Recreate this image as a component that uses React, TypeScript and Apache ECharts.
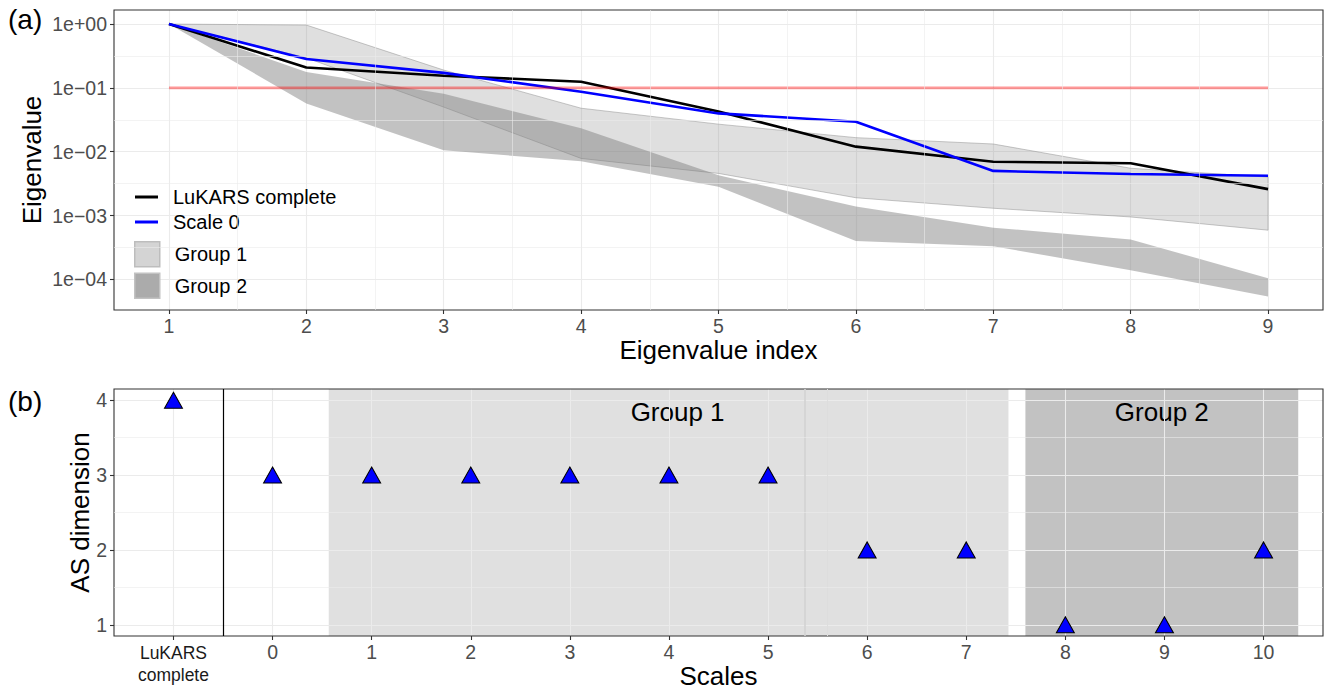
import React, { useEffect, useRef } from 'react';
import * as echarts from 'echarts';

// ---------- Panel (a) data ----------
const eigIndex = [1, 2, 3, 4, 5, 6, 7, 8, 9];
const lukarsComplete = [1, 0.209, 0.155, 0.125, 0.0427, 0.012, 0.00695, 0.0066, 0.00259];
const scale0 = [1, 0.284, 0.172, 0.087, 0.0398, 0.0295, 0.005, 0.00447, 0.0042];
const group1Upper = [1, 0.964, 0.19, 0.048, 0.027, 0.0166, 0.0132, 0.0055, 0.004];
const group1Lower = [1, 0.295, 0.05, 0.00785, 0.00457, 0.0019, 0.0013, 0.00095, 0.00059];
const group2Upper = [1, 0.178, 0.081, 0.0232, 0.00427, 0.00138, 0.000646, 0.000422, 0.000104];
const group2Lower = [1, 0.0571, 0.0105, 0.00708, 0.00282, 0.000398, 0.000331, 0.000139, 0.0000537];
const thresholdValue = 0.1;
const yTickExponents = [-4, -3, -2, -1, 0];

// ---------- Panel (b) data ----------
const scaleLabels = ['LuKARS complete', '0', '1', '2', '3', '4', '5', '6', '7', '8', '9', '10'];
const asDimension = [4, 3, 3, 3, 3, 3, 3, 2, 2, 1, 1, 2];
const asTicks = [1, 2, 3, 4];
const group1Span = [1.567, 8.426];
const group2Span = [8.597, 11.35];
const separatorAt = 0.5;
const group1Seams = [6.367, 6.6];

const FONT = '"Liberation Sans", Arial, Helvetica, sans-serif';
const lg = (v: number) => Math.log10(v);

function expLabel(v: number) {
  const n = Math.round(v);
  const sign = n >= 0 ? '+' : '\u2212';
  return '1e' + sign + String(Math.abs(n)).padStart(2, '0');
}

function ribbon(name: string, upper: number[], lower: number[], fill: string, stroke: string, lw: number, z: number) {
  return {
    type: 'custom',
    name,
    xAxisIndex: 0,
    yAxisIndex: 0,
    z,
    silent: true,
    itemStyle: { color: fill },
    data: eigIndex.map((x, i) => [x, lg(upper[i]), lg(lower[i])]),
    encode: { x: 0, y: [1, 2] },
    renderItem: (params: any, api: any) => {
      if (params.dataIndex !== 0) return { type: 'group', children: [] };
      const up = eigIndex.map((x, i) => api.coord([x, lg(upper[i])]));
      const lo = eigIndex.map((x, i) => api.coord([x, lg(lower[i])])).reverse();
      return {
        type: 'polygon',
        shape: { points: [...up, ...lo] },
        style: { fill, stroke, lineWidth: lw },
      };
    },
  };
}

export default function App() {
  const ref = useRef<HTMLDivElement>(null);

  useEffect(() => {
    if (!ref.current) return;
    const chart = echarts.init(ref.current, undefined, { renderer: 'svg' });

    const xMinorA = eigIndex.slice(1).map((v) => v - 0.5);
    const yMinorA = yTickExponents.slice(1).map((v) => v - 0.5);
    const yMinorB = asTicks.slice(1).map((v) => v - 0.5);
    const scaleIdx = scaleLabels.map((_, i) => i);

    const tickStyle = { show: true, length: 4, lineStyle: { color: '#333333', width: 1.1 } };
    const splitStyle = { show: true, lineStyle: { color: '#ebebeb', width: 1.1 } };
    const labelStyle = { color: '#4d4d4d', fontSize: 19.5, fontFamily: FONT };
    const nameStyle = { color: '#000', fontSize: 26, fontFamily: FONT };
    const noLine = { show: false, onZero: false };
    const legendText = { fontSize: 20, color: '#000', lineHeight: 22, fontFamily: FONT, padding: [0, 0, 0, 10] };

    const option: any = {
      animation: false,
      backgroundColor: '#ffffff',
      textStyle: { fontFamily: FONT },
      grid: [
        { left: 114, top: 10, width: 1209, height: 300, show: true, borderColor: '#333333', borderWidth: 1.1,
          backgroundColor: 'transparent', z: 4, containLabel: false, outerBoundsMode: 'none' },
        { left: 114, top: 389, width: 1209, height: 247, show: true, borderColor: '#333333', borderWidth: 1.1,
          backgroundColor: 'transparent', z: 4, containLabel: false, outerBoundsMode: 'none' },
      ],
      xAxis: [
        {
          type: 'value', gridIndex: 0, min: 0.6, max: 9.4,
          axisLine: noLine,
          axisTick: { ...tickStyle, customValues: eigIndex },
          axisLabel: { ...labelStyle, margin: 6, customValues: eigIndex, formatter: (v: number) => String(Math.round(v)) },
          splitLine: splitStyle,
          name: 'Eigenvalue index', nameLocation: 'middle', nameGap: 27, nameMoveOverlap: false, nameTextStyle: nameStyle,
        },
        {
          type: 'value', gridIndex: 1, min: -0.6, max: 11.6, z: 3,
          axisLine: noLine,
          axisTick: { ...tickStyle, customValues: scaleIdx },
          axisLabel: {
            ...labelStyle, margin: 6, customValues: scaleIdx,
            formatter: (v: number) => {
              const i = Math.round(v);
              if (i === 0) {
                const parts = scaleLabels[0].split(' ');
                return parts.map((p) => '{lk|' + p + '}').join('\n');
              }
              return scaleLabels[i];
            },
            rich: { lk: { fontSize: 17.5, color: '#1a1a1a', lineHeight: 22, fontFamily: FONT } },
          },
          splitLine: splitStyle,
          name: 'Scales', nameLocation: 'middle', nameGap: 27, nameMoveOverlap: false,
          nameTextStyle: { ...nameStyle, lineHeight: 26 },
        },
      ],
      yAxis: [
        {
          type: 'value', gridIndex: 0, min: -4.48, max: 0.22,
          axisLine: noLine,
          axisTick: { ...tickStyle, customValues: yTickExponents },
          axisLabel: { ...labelStyle, margin: 7, customValues: yTickExponents, formatter: expLabel },
          splitLine: splitStyle,
          name: 'Eigenvalue', nameLocation: 'middle', nameGap: 69, nameMoveOverlap: false, nameTextStyle: nameStyle,
        },
        {
          type: 'value', gridIndex: 1, min: 0.85, max: 4.15, z: 3,
          axisLine: noLine,
          axisTick: { ...tickStyle, customValues: asTicks },
          axisLabel: { ...labelStyle, margin: 7, customValues: asTicks, formatter: (v: number) => String(Math.round(v)) },
          splitLine: splitStyle,
          name: 'AS dimension', nameLocation: 'middle', nameGap: 21, nameMoveOverlap: false, nameTextStyle: nameStyle,
        },
      ],
      legend: [
        {
          data: [
            { name: 'LuKARS complete', icon: 'rect', itemStyle: { color: '#000000', borderWidth: 0 } },
            { name: 'Scale 0', icon: 'rect', itemStyle: { color: '#0000ff', borderWidth: 0 } },
          ],
          orient: 'vertical', left: 135, top: 186, padding: 0,
          itemWidth: 23, itemHeight: 3, itemGap: 3,
          selectedMode: false,
          textStyle: legendText,
        },
        {
          data: [
            { name: 'Group 1', icon: 'rect', itemStyle: { color: '#d4d4d4', borderColor: '#bdbdbd', borderWidth: 1.5 } },
            { name: 'Group 2', icon: 'rect', itemStyle: { color: '#ababab', borderColor: '#c2c2c2', borderWidth: 1.5 } },
          ],
          orient: 'vertical', left: 134, top: 241, padding: 0,
          itemWidth: 25, itemHeight: 25, itemGap: 5,
          selectedMode: false,
          textStyle: legendText,
        },
      ],
      graphic: [
        { type: 'text', left: 8, top: 5, style: { text: '(a)', fontSize: 28, fill: '#000', fontFamily: FONT } },
        { type: 'text', left: 8, top: 387, style: { text: '(b)', fontSize: 28, fill: '#000', fontFamily: FONT } },
      ],
      series: [
        // minor grid, panel (a)
        {
          type: 'line', name: 'minorA', xAxisIndex: 0, yAxisIndex: 0, z: 1, silent: true,
          data: [[1, 0]], showSymbol: false, symbol: 'none', lineStyle: { opacity: 0 },
          markLine: {
            silent: true, symbol: ['none', 'none'], label: { show: false },
            lineStyle: { color: '#ebebeb', width: 0.6, type: 'solid' },
            data: [...xMinorA.map((v) => ({ xAxis: v })), ...yMinorA.map((v) => ({ yAxis: v }))],
          },
        },
        ribbon('Group 1', group1Upper, group1Lower, 'rgba(128,128,128,0.25)', 'rgba(140,140,140,0.6)', 0.8, 2),
        ribbon('Group 2', group2Upper, group2Lower, 'rgba(128,128,128,0.48)', 'rgba(128,128,128,0)', 0, 2),
        {
          type: 'line', name: 'LuKARS complete', xAxisIndex: 0, yAxisIndex: 0, z: 3,
          data: eigIndex.map((x, i) => [x, lg(lukarsComplete[i])]),
          showSymbol: false, symbol: 'none',
          itemStyle: { color: '#000000' },
          lineStyle: { color: '#000000', width: 2.6 },
        },
        {
          type: 'line', name: 'Scale 0', xAxisIndex: 0, yAxisIndex: 0, z: 3,
          data: eigIndex.map((x, i) => [x, lg(scale0[i])]),
          showSymbol: false, symbol: 'none',
          itemStyle: { color: '#0000ff' },
          lineStyle: { color: '#0000ff', width: 2.6 },
        },
        {
          type: 'line', name: 'threshold', xAxisIndex: 0, yAxisIndex: 0, z: 4, silent: true,
          data: [[eigIndex[0], lg(thresholdValue)], [eigIndex[eigIndex.length - 1], lg(thresholdValue)]],
          showSymbol: false, symbol: 'none',
          lineStyle: { color: 'rgba(255,0,0,0.4)', width: 2.6 },
        },
        // panel (b): shaded group areas
        {
          type: 'scatter', name: 'groupsB', xAxisIndex: 1, yAxisIndex: 1, z: 1, silent: true,
          data: [],
          markArea: {
            silent: true,
            data: [
              [
                { name: 'Group 1', xAxis: group1Span[0], itemStyle: { color: '#e0e0e0' },
                  label: { show: true, position: 'insideTop', distance: 10, offset: [9, 0], fontSize: 26, color: '#000', fontFamily: FONT } },
                { xAxis: group1Span[1] },
              ],
              [
                { name: 'Group 2', xAxis: group2Span[0], itemStyle: { color: '#c2c2c2' },
                  label: { show: true, position: 'insideTop', distance: 10, fontSize: 26, color: '#000', fontFamily: FONT } },
                { xAxis: group2Span[1] },
              ],
            ],
          },
          markLine: {
            silent: true, symbol: ['none', 'none'], label: { show: false },
            data: [
              { xAxis: group1Seams[0], lineStyle: { color: '#d2d2d2', width: 1.6, type: 'solid' } },
              { xAxis: group1Seams[1], lineStyle: { color: '#dddddd', width: 1, type: 'solid' } },
            ],
          },
        },
        // panel (b): minor grid (above shading, like the major grid)
        {
          type: 'line', name: 'minorB', xAxisIndex: 1, yAxisIndex: 1, z: 3, silent: true,
          data: [[0, 1]], showSymbol: false, symbol: 'none', lineStyle: { opacity: 0 },
          markLine: {
            silent: true, symbol: ['none', 'none'], label: { show: false },
            lineStyle: { color: '#ebebeb', width: 0.6, type: 'solid' },
            data: yMinorB.map((v) => ({ yAxis: v })),
          },
        },
        // separator line
        {
          type: 'line', name: 'sep', xAxisIndex: 1, yAxisIndex: 1, z: 4, silent: true,
          data: [[0, 1]], showSymbol: false, symbol: 'none', lineStyle: { opacity: 0 },
          markLine: {
            silent: true, symbol: ['none', 'none'], label: { show: false },
            lineStyle: { color: '#000000', width: 1.2, type: 'solid' },
            data: [{ xAxis: separatorAt }],
          },
        },
        {
          type: 'scatter', name: 'AS dimension', xAxisIndex: 1, yAxisIndex: 1, z: 5,
          data: scaleIdx.map((i) => [i, asDimension[i]]),
          symbol: 'triangle', symbolSize: [18, 16],
          itemStyle: { color: '#0000ff', borderColor: '#000000', borderWidth: 1, opacity: 1 },
        },
      ],
    };

    chart.setOption(option);
    return () => chart.dispose();
  }, []);

  return (
    <div
      ref={ref}
      style={{ position: 'fixed', left: 0, top: 0, width: 1326, height: 692, background: '#fff' }}
    />
  );
}
